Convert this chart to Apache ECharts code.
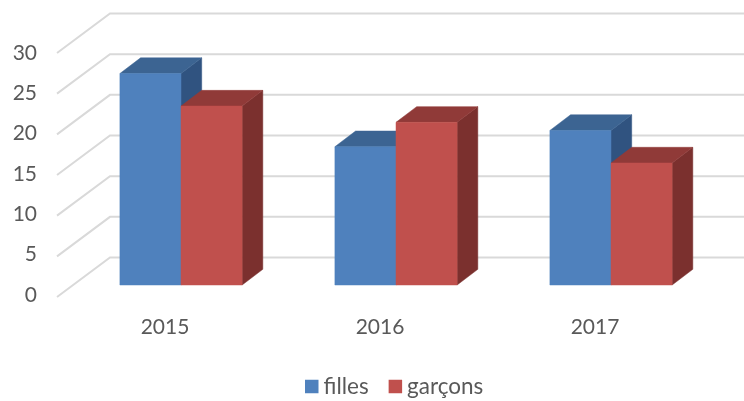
<!DOCTYPE html>
<html>
<head>
<meta charset="utf-8">
<style>
html,body{margin:0;padding:0;background:#fff}
#chart{width:744px;height:401px}
</style>
<script src="https://cdn.jsdelivr.net/npm/echarts@6/dist/echarts.min.js"></script>
</head>
<body>
<div id="chart"></div>
<script>
var categories = ['2015', '2016', '2017'];
var filles = [26, 17, 19];
var garcons = [22, 20, 15];
var ticks = [0, 5, 10, 15, 20, 25, 30];

var chart = echarts.init(document.getElementById('chart'));

// bar box in band fractions / px
var BAR = 0.2842, DX = 20.7, DY = 15.7;

function bar3d(colors, side) {
  return function (params, api) {
    var base = api.coord([api.value(0), 0]);
    var top = api.coord([api.value(0), api.value(1)]);
    var w = api.size([1, 0])[0] * BAR;
    var x0 = side < 0 ? base[0] - w : base[0];
    var x1 = x0 + w;
    var y0 = base[1], y1 = top[1];
    return {
      type: 'group',
      children: [
        { type: 'polygon', shape: { points: [[x1, y1], [x1 + DX, y1 - DY], [x1 + DX, y0 - DY], [x1, y0]] }, style: { fill: colors[2], stroke: colors[2], lineWidth: 0.5 } },
        { type: 'polygon', shape: { points: [[x0, y1], [x0 + DX, y1 - DY], [x1 + DX, y1 - DY], [x1, y1]] }, style: { fill: colors[1], stroke: colors[1], lineWidth: 0.5 } },
        { type: 'polygon', shape: { points: [[x0, y1], [x1, y1], [x1, y0], [x0, y0]] }, style: { fill: colors[0], stroke: colors[0], lineWidth: 0.5 } }
      ]
    };
  };
}

// floor/back wall lines: slanted part then flat part to the right
function wallLine(params, api) {
  var y = api.coord([0, api.value(1)])[1];
  var cs = params.coordSys;
  return {
    type: 'polyline',
    shape: { points: [[cs.x - 16.5, y + 12], [cs.x + 36.5, y - 27.5], [cs.x + cs.width + 26, y - 27.5]] },
    style: { fill: 'none', stroke: '#d9d9d9', lineWidth: 2 }
  };
}

var option = {
  animation: false,
  textStyle: { fontFamily: 'Lato' },
  // grid 0 = plane of the bar fronts, grid 1 = front edge of the walls (carries the tick labels)
  grid: [
    { left: 73.5, width: 645, top: 41, height: 244 },
    { left: 73.5, width: 645, top: 53, height: 242 }
  ],
  legend: {
    data: [{ name: 'filles', icon: 'rect' }, { name: 'garçons', icon: 'rect' }],
    left: 300,
    top: 370,
    itemWidth: 13.5,
    itemHeight: 13.5,
    itemGap: 20,
    textStyle: { color: '#595959', fontSize: 22.5, fontFamily: 'Lato' }
  },
  xAxis: [
    {
      type: 'category',
      data: categories,
      axisLine: { show: false },
      axisTick: { show: false },
      axisLabel: { color: '#595959', fontSize: 21, margin: 32, padding: [0, 32, 0, 0], fontFamily: 'Lato' }
    },
    { type: 'category', gridIndex: 1, data: categories, show: false }
  ],
  yAxis: [
    { type: 'value', min: 0, max: 30, interval: 5, show: false },
    {
      type: 'value',
      gridIndex: 1,
      min: 0,
      max: 30,
      interval: 5,
      splitLine: { show: false },
      axisLine: { show: false },
      axisTick: { show: false },
      axisLabel: { color: '#595959', fontSize: 21, margin: 36.5, fontFamily: 'Lato' }
    }
  ],
  series: [
    {
      type: 'custom',
      silent: true,
      clip: false,
      z: 1,
      renderItem: wallLine,
      data: ticks.map(function (t) { return [0, t]; })
    },
    {
      name: 'filles',
      type: 'custom',
      clip: false,
      z: 2,
      itemStyle: { color: '#4f81bd' },
      renderItem: bar3d(['#4f81bd', '#3c6492', '#305380'], -1),
      data: filles.map(function (v, i) { return [i, v]; })
    },
    {
      name: 'garçons',
      type: 'custom',
      clip: false,
      z: 3,
      itemStyle: { color: '#c0504d' },
      renderItem: bar3d(['#c0504d', '#903a38', '#7b302e'], 1),
      data: garcons.map(function (v, i) { return [i, v]; })
    }
  ]
};
chart.setOption(option);
</script>
</body>
</html>
